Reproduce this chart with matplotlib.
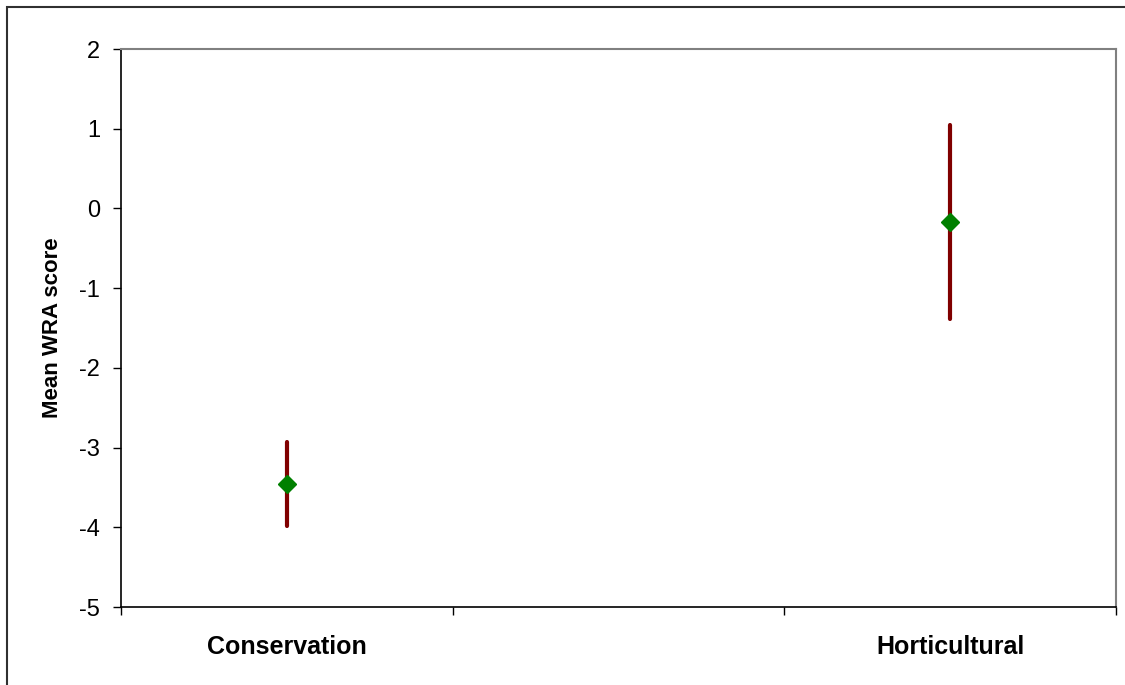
import matplotlib
matplotlib.use("Agg")
import matplotlib.pyplot as plt
import matplotlib.patches as patches

# data
categories = ["Conservation", "Horticultural"]
slots = [0, 2]          # category slot on a 3-slot axis (middle slot is empty)
means = [-3.46, -0.17]
errors = [0.53, 1.22]
yticks = [-5, -4, -3, -2, -1, 0, 1, 2]

plt.rcParams['font.family'] = ['Liberation Sans', 'DejaVu Sans']

fig = plt.figure(figsize=(11.25, 6.85), dpi=100)
ax = fig.add_axes([121 / 1125, 1 - 607 / 685, 995 / 1125, 558 / 685])

# outer frame around the chart area
fig.patches.append(patches.Rectangle((6.5 / 1125, -0.1), 1.2, 1 - 6.5 / 685 + 0.1,
                                     transform=fig.transFigure, fill=False,
                                     edgecolor='#303030', lw=1.5))

xs = [s + 0.5 for s in slots]
eb = ax.errorbar(xs, means, yerr=errors, fmt='none', ecolor='#800000',
                 elinewidth=3, capsize=0, zorder=2)
for lc in eb[2]:
    lc.set_capstyle('round')
ax.plot(xs, means, linestyle='none', marker='D', markersize=9.5,
        color='#008000', markeredgecolor='#008000', zorder=3)

ax.set_xlim(0, 3)
ax.set_ylim(-5, 2)
ax.set_yticks(yticks)
ax.set_yticklabels([str(v) for v in yticks], fontsize=17)
ax.tick_params(axis='y', direction='out', length=6, width=1, pad=9)

ax.set_xticks([0, 1, 2, 3])
ax.set_xticklabels([])
ax.tick_params(axis='x', which='major', direction='out', length=6, width=1)
ax.set_xticks(xs, minor=True)
ax.set_xticklabels(categories, minor=True, fontsize=18, fontweight='bold')
ax.tick_params(axis='x', which='minor', length=0, pad=20)

ax.set_ylabel("Mean WRA score", fontsize=16, fontweight='bold', labelpad=12)

for side in ['left', 'bottom']:
    ax.spines[side].set_color('black')
    ax.spines[side].set_linewidth(1.2)
for side in ['top', 'right']:
    ax.spines[side].set_color('#808080')
    ax.spines[side].set_linewidth(1.5)

fig.savefig("out.png", dpi=100)
